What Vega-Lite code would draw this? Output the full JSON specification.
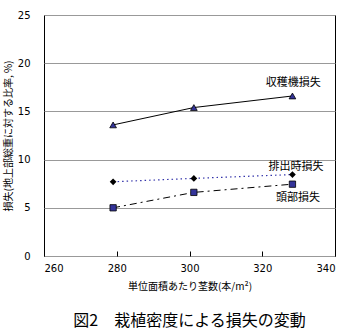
{
  "$schema": "https://vega.github.io/schema/vega-lite/v6.json",
  "width": 291,
  "height": 241,
  "autosize": {"type": "none"},
  "padding": {"left": 44, "top": 15, "right": 9, "bottom": 79},
  "background": "white",
  "config": {
    "font": "Noto Sans CJK JP",
    "view": {"stroke": "black", "strokeWidth": 1},
    "axis": {"labelFont": "DejaVu Sans", "labelFontSize": 10, "labelColor": "black", "titleColor": "black", "titleFont": "Noto Sans CJK JP", "titleFontWeight": "normal", "titleFontSize": 10}
  },
  "title": {"text": "図2　栽植密度による損失の変動", "orient": "bottom", "anchor": "middle", "fontSize": 16, "fontWeight": "normal", "font": "Noto Sans CJK JP", "offset": 22, "color": "black"},
  "datasets": {
    "pts": [
      {"series": "収穫機損失", "x": 279, "y": 13.6},
      {"series": "収穫機損失", "x": 301.2, "y": 15.4},
      {"series": "収穫機損失", "x": 328.3, "y": 16.6},
      {"series": "排出時損失", "x": 279, "y": 7.7},
      {"series": "排出時損失", "x": 301.2, "y": 8.05},
      {"series": "排出時損失", "x": 328.3, "y": 8.45},
      {"series": "頭部損失", "x": 279, "y": 5.0},
      {"series": "頭部損失", "x": 301.2, "y": 6.6},
      {"series": "頭部損失", "x": 328.3, "y": 7.45}
    ],
    "labels": [
      {"label": "収穫機損失", "x": 328.5, "y": 17.9},
      {"label": "排出時損失", "x": 329.3, "y": 9.26},
      {"label": "頭部損失", "x": 329.8, "y": 6.05}
    ]
  },
  "layer": [
    {
      "data": {"name": "pts"},
      "transform": [{"filter": "datum.series === '収穫機損失'"}],
      "mark": {"type": "line", "color": "black", "strokeWidth": 1},
      "encoding": {
        "x": {"field": "x", "type": "quantitative", "scale": {"domain": [260, 340], "nice": false, "zero": false},
          "axis": {"values": [260, 280, 300, 320, 340], "title": "単位面積あたり茎数(本/m²)", "grid": false, "tickSize": -5, "tickColor": "black", "labelPadding": 12, "domain": false, "titlePadding": 8}},
        "y": {"field": "y", "type": "quantitative", "scale": {"domain": [0, 25], "nice": false},
          "axis": {"values": [0, 5, 10, 15, 20, 25], "title": "損失(地上部総重に対する比率, %)", "grid": true, "gridColor": "#999999", "gridOpacity": 1, "tickSize": 0, "labelPadding": 14, "domain": false, "titlePadding": 4}}
      }
    },
    {
      "data": {"name": "pts"},
      "transform": [{"filter": "datum.series === '排出時損失'"}],
      "mark": {"type": "line", "color": "#3333aa", "strokeWidth": 1.2, "strokeDash": [1.5, 3]},
      "encoding": {"x": {"field": "x", "type": "quantitative"}, "y": {"field": "y", "type": "quantitative"}}
    },
    {
      "data": {"name": "pts"},
      "transform": [{"filter": "datum.series === '頭部損失'"}],
      "mark": {"type": "line", "color": "black", "strokeWidth": 1, "strokeDash": [7, 4, 2, 4]},
      "encoding": {"x": {"field": "x", "type": "quantitative"}, "y": {"field": "y", "type": "quantitative"}}
    },
    {
      "data": {"name": "pts"},
      "transform": [{"filter": "datum.series === '収穫機損失'"}],
      "mark": {"type": "point", "shape": "triangle-up", "filled": true, "color": "#333399", "stroke": "black", "strokeWidth": 0.8, "size": 45, "opacity": 1},
      "encoding": {"x": {"field": "x", "type": "quantitative"}, "y": {"field": "y", "type": "quantitative"}}
    },
    {
      "data": {"name": "pts"},
      "transform": [{"filter": "datum.series === '排出時損失'"}],
      "mark": {"type": "point", "shape": "diamond", "filled": true, "color": "black", "size": 45, "opacity": 1},
      "encoding": {"x": {"field": "x", "type": "quantitative"}, "y": {"field": "y", "type": "quantitative"}}
    },
    {
      "data": {"name": "pts"},
      "transform": [{"filter": "datum.series === '頭部損失'"}],
      "mark": {"type": "point", "shape": "square", "filled": true, "color": "#333399", "stroke": "black", "strokeWidth": 0.8, "size": 40, "opacity": 1},
      "encoding": {"x": {"field": "x", "type": "quantitative"}, "y": {"field": "y", "type": "quantitative"}}
    },
    {
      "data": {"name": "labels"},
      "mark": {"type": "text", "fontSize": 11, "color": "black", "font": "Noto Sans CJK JP", "align": "center", "baseline": "middle"},
      "encoding": {"x": {"field": "x", "type": "quantitative"}, "y": {"field": "y", "type": "quantitative"}, "text": {"field": "label"}}
    }
  ]
}
